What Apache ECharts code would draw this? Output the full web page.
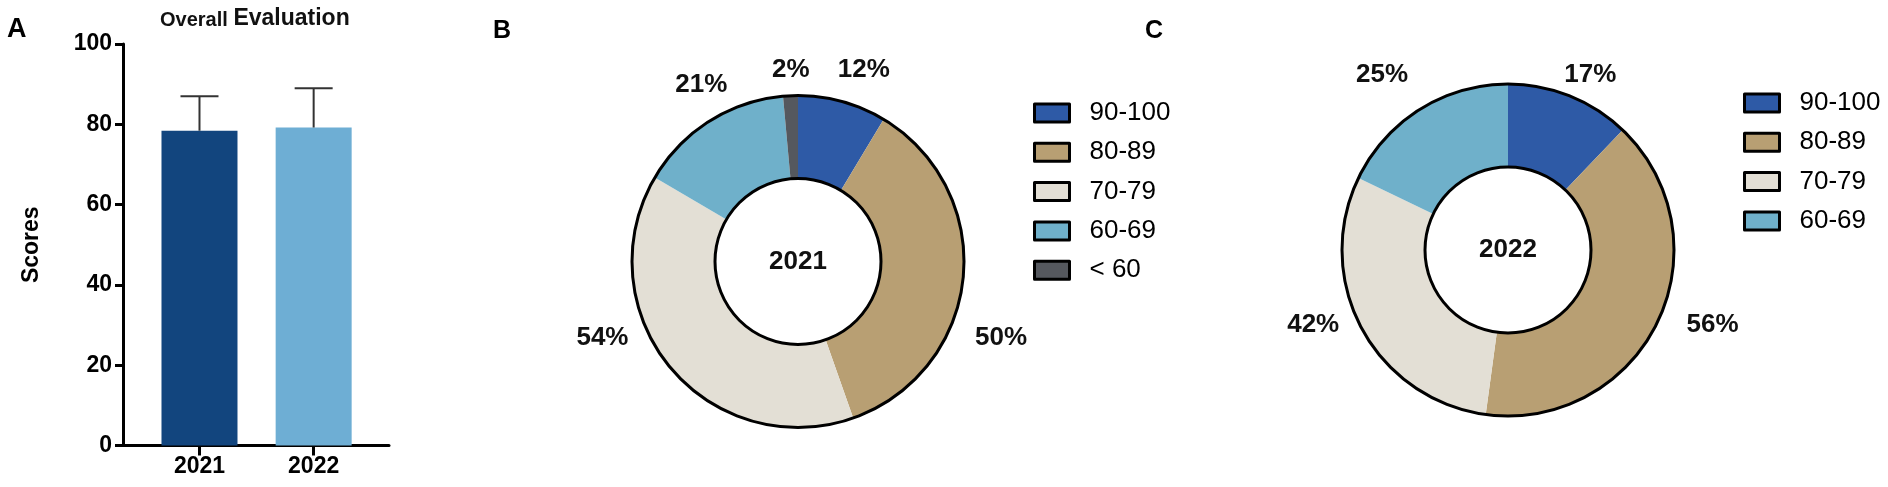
<!DOCTYPE html>
<html>
<head>
<meta charset="utf-8">
<script src="https://cdn.jsdelivr.net/npm/echarts@6/dist/echarts.min.js"></script>
<style>
html,body{margin:0;padding:0;background:#fff;}
#chart{width:1888px;height:487px;}
</style>
</head>
<body>
<div id="chart"></div>
<script>
// ---------- data ----------
const years = ['2021', '2022'];
const barMeans = [78.4, 79.2];
const barSD = [8.6, 9.8];
const barColors = ['#12457e', '#6eaed4'];

const grades2021 = ['90-100', '80-89', '70-79', '60-69', '< 60'];
const pct2021 = [12, 50, 54, 21, 2];
const grades2022 = ['90-100', '80-89', '70-79', '60-69'];
const pct2022 = [17, 56, 42, 25];
const gradeColors = {
  '90-100': '#2e5aa6',
  '80-89': '#b89f73',
  '70-79': '#e3dfd5',
  '60-69': '#6fb0ca',
  '< 60': '#55585e'
};

// ---------- styles ----------
const F = "'Liberation Sans', Arial, Helvetica, sans-serif";
const nudge2021 = [[-23, -12], [-21, 57], [-13, -42], [42, -20], [33, -6]];
const nudge2022 = [[-26, -3], [-2, -6], [8, -13], [12, -18]];

const sum = a => a.reduce((s, v) => s + v, 0);

function donut(name, cats, vals, center, nudges) {
  return {
    type: 'pie', name: name, center: center, radius: [83, 166],
    startAngle: 90, clockwise: true, avoidLabelOverlap: false,
    silent: true, emphasis: { disabled: true },
    itemStyle: { borderWidth: 0 },
    label: {
      show: true, position: 'outside', formatter: '{c}%',
      fontFamily: F, fontWeight: 'bold', fontSize: 26, color: '#111',
      distanceToLabelLine: 5
    },
    labelLine: { show: false, length: 20, length2: 8 },
    labelLayout: p => ({ dx: nudges[p.dataIndex][0], dy: nudges[p.dataIndex][1] }),
    data: cats.map((c, i) => ({ name: c, value: vals[i], itemStyle: { color: gradeColors[c] } }))
  };
}
function ring(year, vals, center) {
  return {
    type: 'pie', center: center, radius: [83, 166], z: 3,
    silent: true, emphasis: { disabled: true },
    itemStyle: { color: 'rgba(0,0,0,0)', borderColor: '#000', borderWidth: 3 },
    label: { show: true, position: 'center', formatter: '{b}', fontFamily: F, fontWeight: 'bold', fontSize: 26, color: '#111' },
    labelLine: { show: false },
    data: [{ name: year, value: sum(vals) }]
  };
}
function legendFor(cats, left, top) {
  return {
    data: cats, orient: 'vertical', left: left, top: top, icon: 'rect',
    itemWidth: 35, itemHeight: 18, itemGap: 13.3, padding: 0, selectedMode: false,
    itemStyle: { borderColor: '#000', borderWidth: 3 },
    textStyle: { fontSize: 26, fontFamily: F, color: '#000', lineHeight: 20, padding: [0, 0, 0, 15] }
  };
}

const chart = echarts.init(document.getElementById('chart'));
chart.setOption({
  backgroundColor: '#fff',
  animation: false,
  title: [
    { text: '{a|Overall} {b|Evaluation}', left: 160, top: 2, padding: 0,
      textStyle: { fontSize: 20, lineHeight: 28, rich: {
        a: { fontSize: 20, lineHeight: 28, verticalAlign: 'bottom', fontWeight: 'bold', fontFamily: F, color: '#111' },
        b: { fontSize: 23, lineHeight: 28, verticalAlign: 'bottom', fontWeight: 'bold', fontFamily: F, color: '#111' } } } },
    { text: 'A', left: 7, top: 16, padding: 0, textStyle: { fontSize: 27, fontWeight: 'bold', fontFamily: F, color: '#000' } },
    { text: 'B', left: 493, top: 19, padding: 0, textStyle: { fontSize: 25, fontWeight: 'bold', fontFamily: F, color: '#000' } },
    { text: 'C', left: 1145, top: 19, padding: 0, textStyle: { fontSize: 25, fontWeight: 'bold', fontFamily: F, color: '#000' } }
  ],
  legend: [legendFor(grades2021, 1033, 100), legendFor(grades2022, 1743, 90)],
  grid: { left: 123, top: 44, width: 266, bottom: 41.5, containLabel: false },
  xAxis: {
    type: 'value', min: -0.67, max: 1.66,
    axisLine: { show: true, onZero: false, lineStyle: { color: '#000', width: 3 } },
    axisTick: { show: true, customValues: [0, 1], length: 10, lineStyle: { color: '#000', width: 3 } },
    axisLabel: { show: true, customValues: [0, 1], formatter: v => years[Math.round(v)], margin: 10,
      fontSize: 23, fontFamily: F, fontWeight: 'bold', color: '#000' },
    splitLine: { show: false }
  },
  yAxis: {
    type: 'value', min: 0, max: 100, interval: 20,
    name: 'Scores', nameLocation: 'middle', nameGap: 80, nameRotate: 90,
    nameTextStyle: { fontSize: 23, fontWeight: 'bold', fontFamily: F, color: '#000' },
    axisLine: { show: true, onZero: false, lineStyle: { color: '#000', width: 3 } },
    axisTick: { show: true, length: 8, lineStyle: { color: '#000', width: 3 } },
    axisLabel: { margin: 11, fontSize: 23, fontFamily: F, fontWeight: 'bold', color: '#000' },
    splitLine: { show: false }
  },
  series: [
    {
      type: 'bar', barWidth: 76, silent: true,
      data: years.map((y, i) => ({ value: [i, barMeans[i]], itemStyle: { color: barColors[i] } }))
    },
    {
      type: 'custom', silent: true, z: 3,
      encode: { x: 0, y: 1 },
      renderItem: (params, api) => {
        const x = api.value(0), m = api.value(1), s = api.value(2);
        const p0 = api.coord([x, m]);
        const p1 = api.coord([x, m + s]);
        const st = { stroke: '#333', lineWidth: 2 };
        return { type: 'group', children: [
          { type: 'line', shape: { x1: p0[0], y1: p0[1], x2: p1[0], y2: p1[1] }, style: st },
          { type: 'line', shape: { x1: p1[0] - 19, y1: p1[1], x2: p1[0] + 19, y2: p1[1] }, style: st }
        ] };
      },
      data: years.map((y, i) => [i, barMeans[i], barSD[i]])
    },
    donut('2021', grades2021, pct2021, [798, 261.5], nudge2021),
    ring('2021', pct2021, [798, 261.5]),
    donut('2022', grades2022, pct2022, [1508, 250], nudge2022),
    ring('2022', pct2022, [1508, 250])
  ]
});
</script>
</body>
</html>
